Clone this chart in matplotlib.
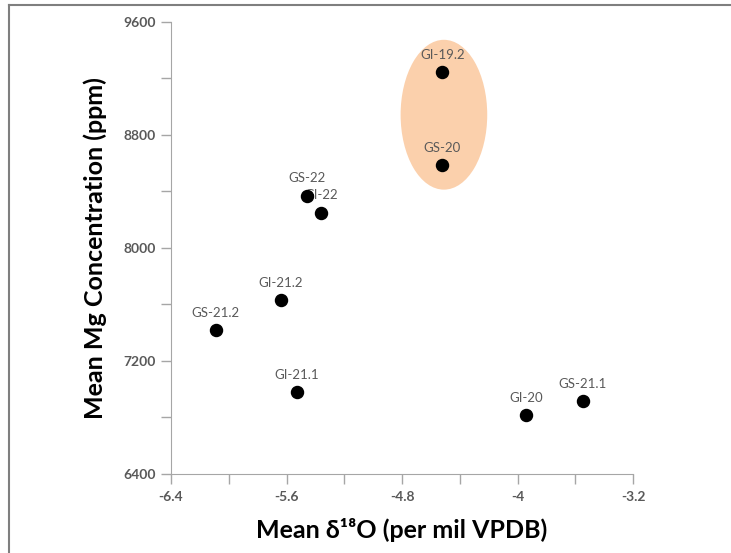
import matplotlib.pyplot as plt
from matplotlib.patches import Ellipse
from matplotlib.lines import Line2D

# Data
# ---------------------------------------
labels = ["GI-19.2", "GS-20", "GS-22", "GI-22", "GI-21.2", "GS-21.2",
          "GI-21.1", "GI-20", "GS-21.1"]
d18o = [-4.52, -4.52, -5.46, -5.36, -5.64, -6.09, -5.53, -3.94, -3.55]
mg = [9245, 8588, 8369, 8249, 7628, 7416, 6978, 6815, 6914]

xticks = [-6.4, -6.0, -5.6, -5.2, -4.8, -4.4, -4.0, -3.6, -3.2]
xticklabels = ["-6.4", "", "-5.6", "", "-4.8", "", "-4", "", "-3.2"]
yticks = [6400, 6800, 7200, 7600, 8000, 8400, 8800, 9200, 9600]
yticklabels = ["6400", "", "7200", "", "8000", "", "8800", "", "9600"]

plt.rcParams['font.family'] = ['Lato', 'DejaVu Sans']

fig = plt.figure(figsize=(7.31, 5.53), dpi=100)
ax = fig.add_axes([0.234, 0.143, 0.632, 0.818])

# highlighted group
ax.add_patch(Ellipse((-4.51, 8941), 0.60, 1060, facecolor="#fbcba3",
                     edgecolor="none", alpha=0.9, zorder=1))

# point labels first so markers sit on top (GS-22 covers the G of GI-22)
for lab, x, y in zip(labels, d18o, mg):
    ax.annotate(lab, (x, y), xytext=(0, 8), textcoords="offset points",
                ha="center", va="bottom", fontsize=9.5, color="#595959",
                zorder=2)
ax.scatter(d18o, mg, s=75, color="black", zorder=3)

ax.set_xlim(-6.4, -3.2)
ax.set_ylim(6400, 9600)
ax.set_xticks(xticks)
ax.set_xticklabels(xticklabels)
ax.set_yticks(yticks)
ax.set_yticklabels(yticklabels)
ax.tick_params(axis="both", direction="out", length=7, width=1,
               color="#a6a6a6", labelsize=10, labelcolor="#595959")
ax.tick_params(axis="x", pad=5)
ax.tick_params(axis="y", pad=4)
for t in ax.get_xticklabels() + ax.get_yticklabels():
    t.set_fontweight("bold")

for side in ["top", "right"]:
    ax.spines[side].set_visible(False)
for side in ["left", "bottom"]:
    ax.spines[side].set_color("#a6a6a6")

ax.set_xlabel("Mean δ¹⁸O (per mil VPDB)", fontsize=18, fontweight="bold",
              labelpad=11)
ax.set_ylabel("Mean Mg Concentration (ppm)", fontsize=18, fontweight="bold",
              labelpad=12)

# partial frame round the figure (top and left only)
fig.add_artist(Line2D([0.012, 1.0], [0.991, 0.991], color="#7f7f7f", lw=1.5))
fig.add_artist(Line2D([0.012, 0.012], [0.0, 0.991], color="#7f7f7f", lw=1.5))

plt.savefig("out.png", dpi=100)
